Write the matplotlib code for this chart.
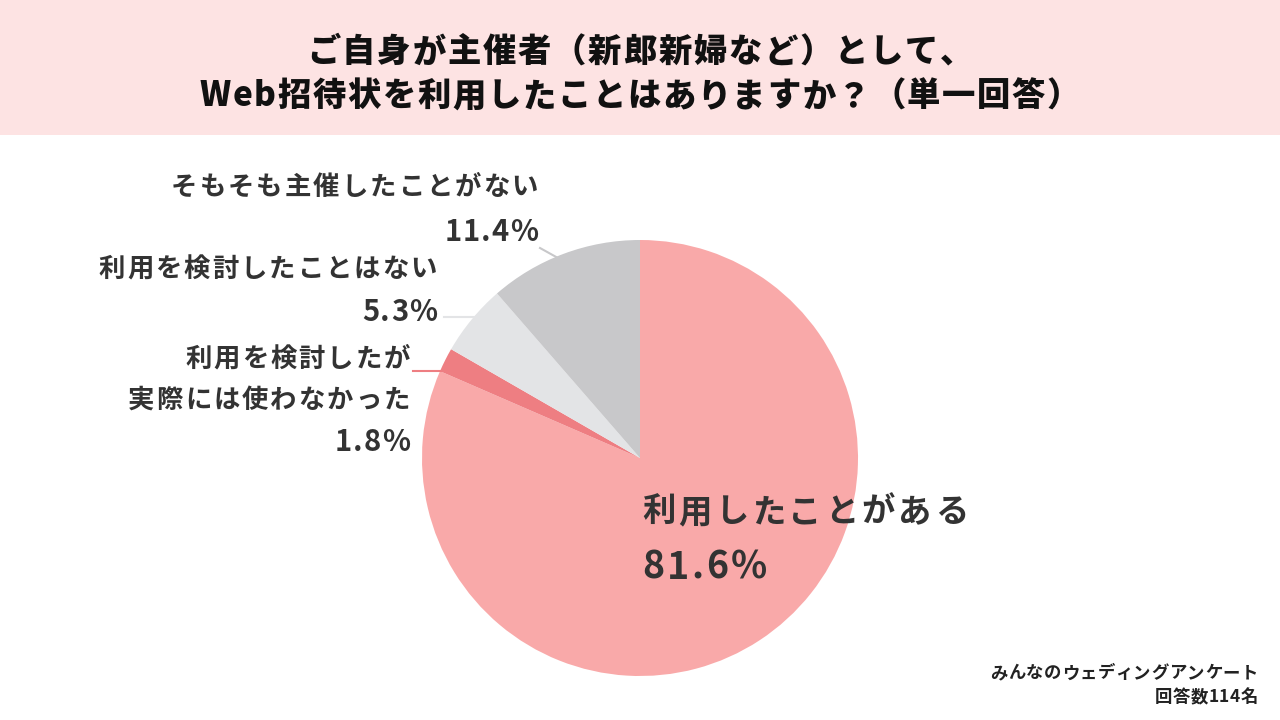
import matplotlib
matplotlib.use("Agg")
import matplotlib.pyplot as plt
from matplotlib.patches import Rectangle
from matplotlib.font_manager import FontProperties

FAM = ['Noto Sans CJK JP', 'DejaVu Sans']
plt.rcParams['font.family'] = FAM

categories = ["利用したことがある", "利用を検討したが\n実際には使わなかった", "利用を検討したことはない", "そもそも主催したことがない"]
values = [81.6, 1.8, 5.3, 11.4]
colors = ["#F9A9A9", "#EE7E82", "#E3E4E6", "#C8C8CA"]
title = "ご自身が主催者（新郎新婦など）として、\nWeb招待状を利用したことはありますか？（単一回答）"
source = "みんなのウェディングアンケート\n回答数114名"

W, H = 1280, 720
fig = plt.figure(figsize=(W / 100, H / 100), dpi=100)
fig.patch.set_facecolor("white")
renderer = fig.canvas.get_renderer()


def fx(x):
    return x / W


def fy(y):
    return 1 - y / H


def spaced(x, yc, s, size, track, ha="left", weight="bold", color="#333333"):
    """Draw text with letter spacing; x, yc in pixels (yc = visual centre)."""
    prop = FontProperties(family=FAM, size=size, weight=weight)
    em = size * 100 / 72
    widths = [renderer.get_text_width_height_descent(c, prop, ismath=False)[0] for c in s]
    total = sum(widths) + track * (len(s) - 1)
    if ha == "right":
        x0 = x - total
    elif ha == "center":
        x0 = x - total / 2
    else:
        x0 = x
    base = yc + 0.37 * em
    cur = x0
    for c, w in zip(s, widths):
        fig.text(fx(cur), fy(base), c, ha="left", va="baseline", fontproperties=prop,
                 color=color)
        cur += w + track


# title band
fig.patches.append(Rectangle((0, fy(135)), 1, 135 / H, transform=fig.transFigure,
                             facecolor="#FDE3E3", edgecolor="none", zorder=0))
t1, t2 = title.split("\n")
spaced(640, 50, t1, 24, 1.8, ha="center", weight="heavy", color="#111111")
spaced(640, 94, t2, 24, 1.6, ha="center", weight="heavy", color="#111111")

# pie
cx, cy, r = 640, 458, 218
ax = fig.add_axes([fx(cx - r), fy(cy + r), 2 * r / W, 2 * r / H])
ax.pie(values, colors=colors, startangle=90, counterclock=False,
       wedgeprops=dict(linewidth=0))
ax.set_aspect("equal")
ax.set_xlim(-1, 1)
ax.set_ylim(-1, 1)
ax.axis("off")


def line(x0, y0, x1, y1, c):
    fig.add_artist(plt.Line2D([fx(x0), fx(x1)], [fy(y0), fy(y1)], transform=fig.transFigure,
                              color=c, linewidth=1.5))


line(540, 248, 558, 258, "#C8C8CA")
line(444, 317, 474, 317, "#E3E4E6")
line(413, 371, 444, 371, "#EE7E82")

# labels
LS, LT = 19, 2.0
PS = 21
spaced(538, 185, categories[3], LS, LT, ha="right")
spaced(538, 230, f"{values[3]}%", PS, 1.0, ha="right")
spaced(437, 267, categories[2], LS, LT, ha="right")
spaced(437, 310, f"{values[2]}%", PS, 1.0, ha="right")
l1, l2 = categories[1].split("\n")
spaced(410, 357, l1, LS, LT, ha="right")
spaced(410, 398, l2, LS, LT, ha="right")
spaced(410, 440, f"{values[1]}%", PS, 1.0, ha="right")
spaced(642, 510, categories[0], 24, 3.2, ha="left")
spaced(642, 565, f"{values[0]}%", 27, 2.5, ha="left")

# source
s1, s2 = source.split("\n")
spaced(1258, 672, s1, 12.5, 0.5, ha="right", color="#222222")
spaced(1258, 696, s2, 12.5, 0.5, ha="right", color="#222222")

fig.savefig("out.png", dpi=100)
